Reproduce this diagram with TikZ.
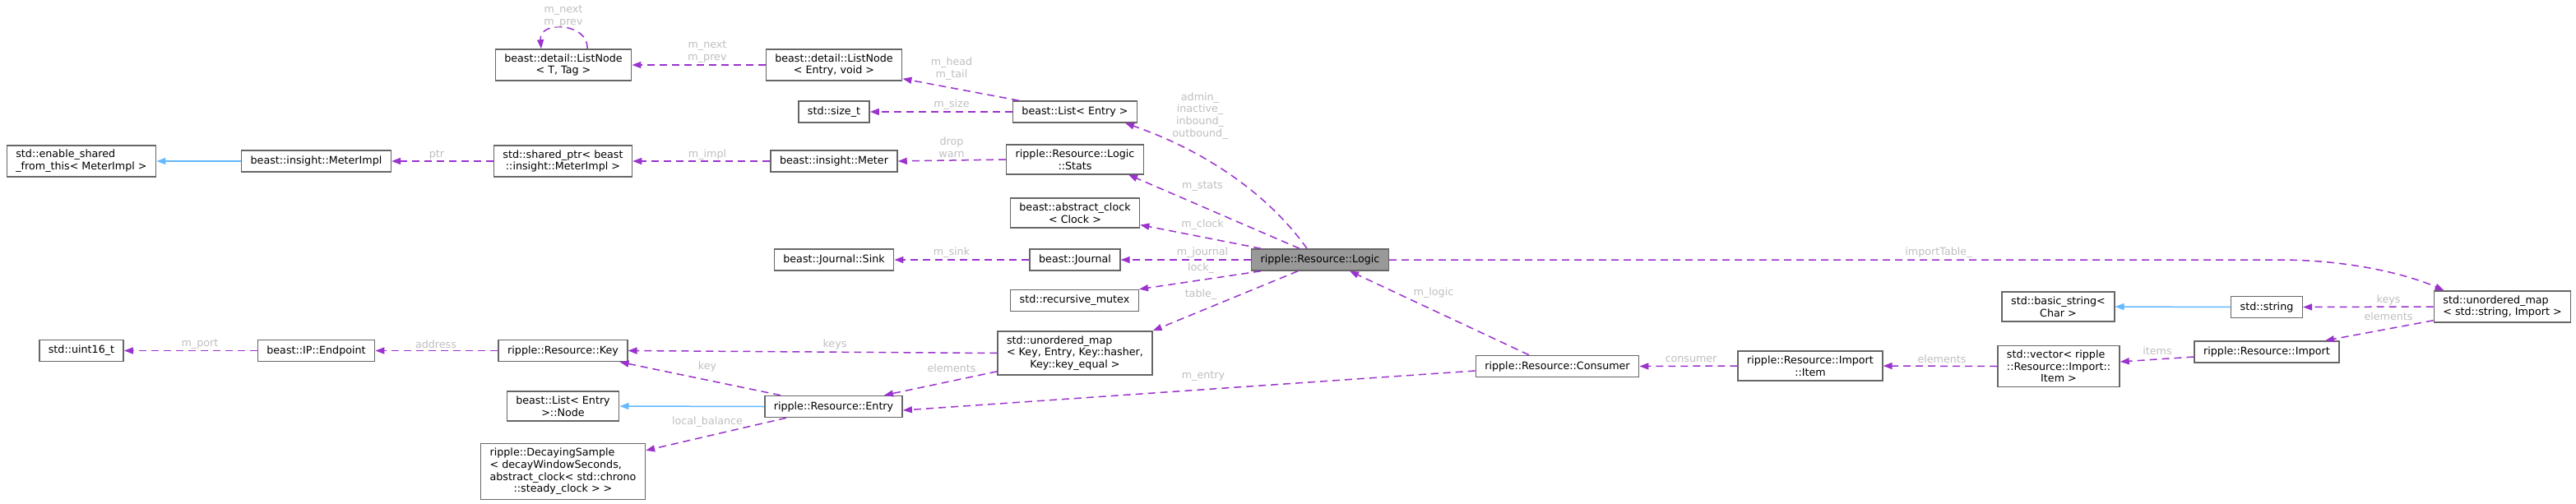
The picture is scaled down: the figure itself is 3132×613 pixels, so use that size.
\documentclass[tikz,border=0pt]{standalone}
\usepackage{fontspec}
\setmainfont{DejaVu Sans}
\usepackage{tikz}
\usetikzlibrary{arrows.meta}
\definecolor{edgepurple}{HTML}{9A32CD}
\definecolor{edgeblue}{HTML}{63B8FF}
\definecolor{boxline}{HTML}{666666}
\definecolor{boxfill}{HTML}{999999}
\definecolor{labelgrey}{HTML}{BEBEBE}
\newcommand{\lastln}{\null\hfil}

\begin{document}
\begin{tikzpicture}[x=1pt, y=-1pt]
    \tikzstyle{classblock} = [rectangle, draw=boxline, fill=white, line width=1.5pt, align=left, inner xsep=11pt, inner ysep=5.5pt, minimum height=26pt, font=\fontsize{12.7}{14.7}\selectfont]
    \tikzstyle{mainblock} = [classblock, fill=boxfill]
    \tikzstyle{usearrow} = [draw=edgepurple, line width=1.5pt, dash pattern=on 9pt off 6pt, -{Triangle[length=11pt, width=8pt]}]
    \tikzstyle{inheritarrow} = [draw=edgeblue, line width=1.5pt, -{Triangle[length=11pt, width=8pt]}]
    \tikzstyle{edgelabel} = [text=labelgrey, align=center, inner sep=0pt, font=\fontsize{12.7}{14.7}\selectfont]

    \useasboundingbox (0,0) rectangle (3132,613);

    \node [mainblock] (logic) at (1605,316) {ripple::Resource::Logic};

    \node [classblock] (enable) at (99,196) {std::enable\_shared\\\_from\_this< MeterImpl >};
    \node [classblock] (uint16) at (99,426.5) {std::uint16\_t};
    \node [classblock] (meterimpl) at (384.5,196) {beast::insight::MeterImpl};
    \node [classblock] (endpoint) at (384.5,426.5) {beast::IP::Endpoint};
    \node [classblock] (listtt) at (685,79) {beast::detail::ListNode\\\lastln< T, Tag >};
    \node [classblock] (sharedptr) at (684.5,196) {std::shared\_ptr< beast\\\lastln::insight::MeterImpl >};
    \node [classblock] (key) at (684.5,426.5) {ripple::Resource::Key};
    \node [classblock] (listnode) at (684.5,494) {beast::List< Entry\\\lastln>::Node};
    \node [classblock] (decaying) at (684.5,573.5) {ripple::DecayingSample\\< decayWindowSeconds,\\ abstract\_clock< std::chrono\\\lastln::steady\_clock > >};
    \node [classblock] (listev) at (1014,79) {beast::detail::ListNode\\\lastln< Entry, void >};
    \node [classblock] (sizet) at (1014,136) {std::size\_t};
    \node [classblock] (meter) at (1014,196) {beast::insight::Meter};
    \node [classblock] (sink) at (1014,316) {beast::Journal::Sink};
    \node [classblock] (entry) at (1013.5,494.5) {ripple::Resource::Entry};
    \node [classblock] (liste) at (1307,136) {beast::List< Entry >};
    \node [classblock] (stats) at (1307,194) {ripple::Resource::Logic\\\lastln::Stats};
    \node [classblock] (clock) at (1307,259) {beast::abstract\_clock\\\lastln< Clock >};
    \node [classblock] (journal) at (1307,316) {beast::Journal};
    \node [classblock] (mutex) at (1306.5,365.5) {std::recursive\_mutex};
    \node [classblock] (umapkey) at (1307,429.5) {std::unordered\_map\\< Key, Entry, Key::hasher,\\\lastln Key::key\_equal >};
    \node [classblock] (consumer) at (1893.5,445.5) {ripple::Resource::Consumer};
    \node [classblock] (item) at (2201,445) {ripple::Resource::Import\\\lastln::Item};
    \node [classblock] (vector) at (2503,445.5) {std::vector< ripple\\::Resource::Import::\\\lastln Item >};
    \node [classblock] (basicstr) at (2502.5,373) {std::basic\_string<\\\lastln Char >};
    \node [classblock] (string) at (2756,373.5) {std::string};
    \node [classblock] (import) at (2756,428) {ripple::Resource::Import};
    \node [classblock] (umapstr) at (3042.5,373) {std::unordered\_map\\< std::string, Import >};

    \draw [usearrow] ([xshift=29pt]listtt.north) .. controls (716,28) and (655,24) .. ([xshift=-27pt]listtt.north) node [edgelabel] at (685,20) {m\_next\\m\_prev};
    \draw [usearrow] (listev.west) -- (listtt.east) node [edgelabel] at (860,63) {m\_next\\m\_prev};
    \draw [usearrow] ([xshift=8pt]liste.north west) -- ([yshift=3pt]listev.south east) node [edgelabel] at (1157,84) {m\_head\\m\_tail};
    \draw [usearrow] (liste.west) -- (sizet.east) node [edgelabel] at (1157,127) {m\_size};
    \draw [inheritarrow] (meterimpl.west) -- (enable.east);
    \draw [usearrow] (sharedptr.west) -- (meterimpl.east) node [edgelabel] at (531,188) {ptr};
    \draw [usearrow] (meter.west) -- (sharedptr.east) node [edgelabel] at (860,188) {m\_impl};
    \draw [usearrow] (stats.west) -- (meter.east) node [edgelabel] at (1157,179) {drop\\warn};
    \draw [usearrow] ([xshift=-16pt]logic.north) .. controls (1545,240) and (1470,185) .. ([xshift=61pt]liste.south) node [edgelabel] at (1459,141) {admin\_\\inactive\_\\inbound\_\\outbound\_};
    \draw [usearrow] ([xshift=-25pt]logic.north) -- ([xshift=65pt]stats.south) node [edgelabel] at (1462,227) {m\_stats};
    \draw [usearrow] ([xshift=-72pt]logic.north) -- ([yshift=4pt]clock.south east) node [edgelabel] at (1462,273) {m\_clock};
    \draw [usearrow] (logic.west) -- (journal.east) node [edgelabel] at (1462,307) {m\_journal};
    \draw [usearrow] (journal.west) -- (sink.east) node [edgelabel] at (1157,307) {m\_sink};
    \draw [usearrow] ([xshift=-72pt]logic.south) -- (mutex.north east) node [edgelabel] at (1460,326) {lock\_};
    \draw [usearrow] ([xshift=-27pt]logic.south) -- (umapkey.north east) node [edgelabel] at (1460,358) {table\_};
    \draw [usearrow] (logic.east) -- (2770,316) .. controls (2860,316) and (2930,335) .. ([xshift=-71pt]umapstr.north) node [edgelabel] at (2357,307) {importTable\_};
    \draw [usearrow] ([xshift=-34.5pt]consumer.north) -- ([xshift=36pt]logic.south) node [edgelabel] at (1743,356) {m\_logic};
    \draw [usearrow] ([yshift=-5.5pt]consumer.west) -- ([yshift=-4.5pt]entry.east) node [edgelabel] at (1463,458) {m\_entry};
    \draw [usearrow] (umapkey.west) -- (key.east) node [edgelabel] at (1015,419) {keys};
    \draw [usearrow] ([yshift=5pt]umapkey.south west) -- ([xshift=61.5pt]entry.north) node [edgelabel] at (1157,448) {elements};
    \draw [usearrow] ([xshift=-64.5pt]entry.north) -- ([xshift=-10pt]key.south east) node [edgelabel] at (860,446) {key};
    \draw [inheritarrow] (entry.west) -- (listnode.east);
    \draw [usearrow] ([xshift=-57.5pt]entry.south) -- ([yshift=-9pt]decaying.north east) node [edgelabel] at (860,513) {local\_balance};
    \draw [usearrow] (key.west) -- (endpoint.east) node [edgelabel] at (530,419) {address};
    \draw [usearrow] (endpoint.west) -- (uint16.east) node [edgelabel] at (243,419) {m\_port};
    \draw [usearrow] (item.west) -- (consumer.east) node [edgelabel] at (2056,437) {consumer};
    \draw [usearrow] (vector.west) -- (item.east) node [edgelabel] at (2361,437) {elements};
    \draw [usearrow] ([yshift=-6pt]import.west) -- ([yshift=5.5pt]vector.east) node [edgelabel] at (2623,427) {items};
    \draw [usearrow] ([yshift=3pt]umapstr.south west) -- ([xshift=71pt]import.north) node [edgelabel] at (2904,385) {elements};
    \draw [usearrow] (umapstr.west) -- (string.east) node [edgelabel] at (2904,365) {keys};
    \draw [inheritarrow] (string.west) -- (basicstr.east);
\end{tikzpicture}
\end{document}
